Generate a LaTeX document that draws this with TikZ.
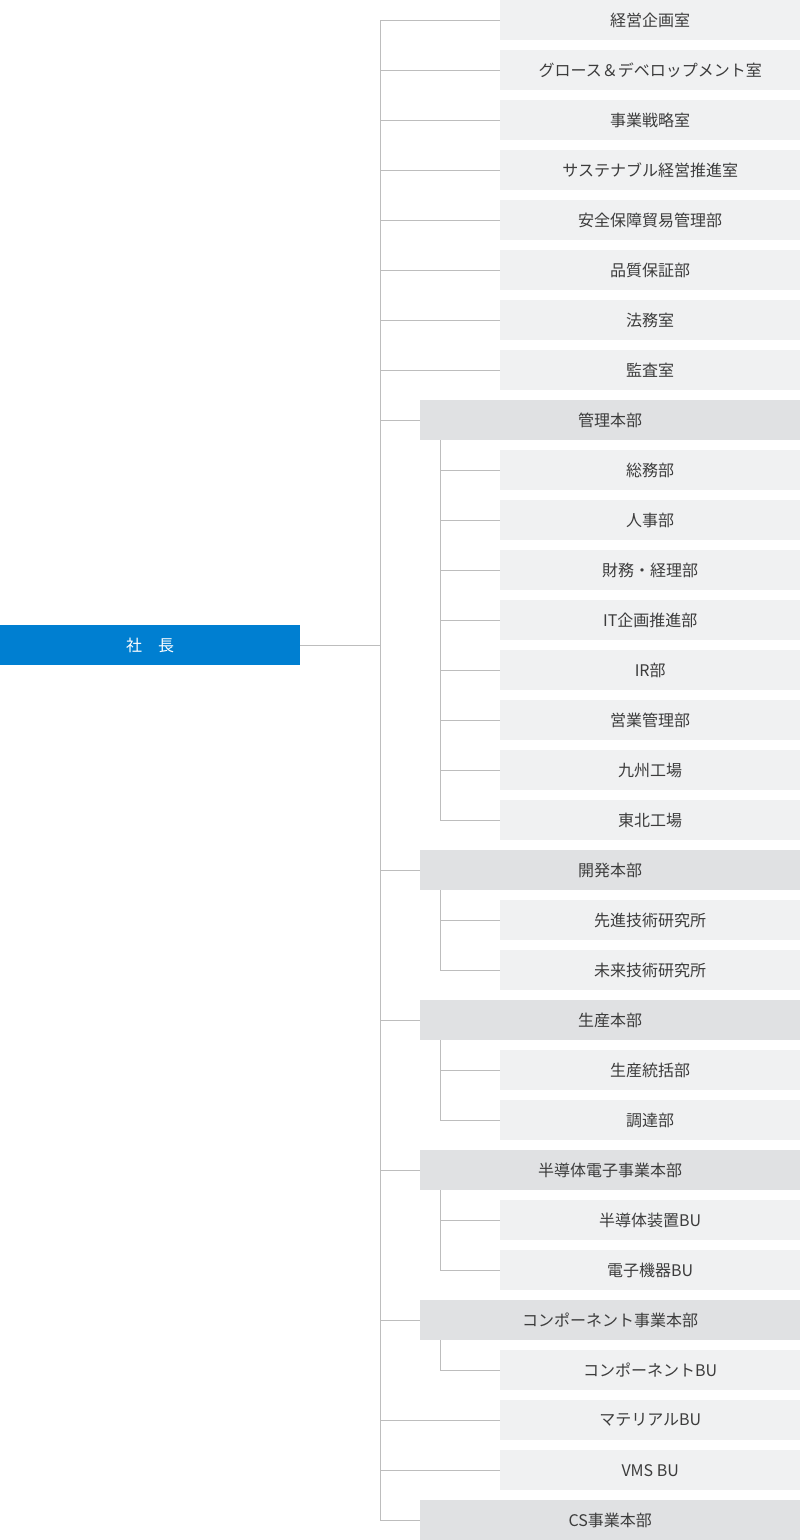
\documentclass[tikz,border=0pt]{standalone}
\usepackage{fontspec}
\setmainfont{Noto Sans CJK JP}
\definecolor{bossblue}{HTML}{007FD1}
\definecolor{leafgray}{HTML}{F0F1F2}
\definecolor{hqgray}{HTML}{E0E1E3}
\definecolor{linegray}{HTML}{BDBDBD}
\definecolor{textgray}{HTML}{3C3C3C}
\tikzset{
  leaf/.style={fill=leafgray, minimum width=300pt, minimum height=40pt, inner sep=0pt,
    anchor=north west, text=textgray, font=\fontsize{16}{16}\selectfont},
  hq/.style={leaf, fill=hqgray, minimum width=380pt},
  boss/.style={leaf, fill=bossblue, text=white},
  conn/.style={draw=linegray, line width=1pt}
}
\begin{document}
\begin{tikzpicture}[x=1pt,y=-1pt]
  \useasboundingbox (0,0) rectangle (800,1540);
  \coordinate (trunk) at (380,0);
  \coordinate (sub) at (440,0);
  % president
  \node[boss] (president) at (0,625) {社　長};
  % staff offices
  \node[leaf] (planning) at (500,0) {経営企画室};
  \node[leaf] (growth) at (500,50) {グロース＆デベロップメント室};
  \node[leaf] (strategy) at (500,100) {事業戦略室};
  \node[leaf] (sustain) at (500,150) {サステナブル経営推進室};
  \node[leaf] (security) at (500,200) {安全保障貿易管理部};
  \node[leaf] (quality) at (500,250) {品質保証部};
  \node[leaf] (legal) at (500,300) {法務室};
  \node[leaf] (audit) at (500,350) {監査室};
  % administration
  \node[hq] (admin) at (420,400) {管理本部};
  \node[leaf] (general) at (500,450) {総務部};
  \node[leaf] (hr) at (500,500) {人事部};
  \node[leaf] (finance) at (500,550) {財務・経理部};
  \node[leaf] (it) at (500,600) {IT企画推進部};
  \node[leaf] (ir) at (500,650) {IR部};
  \node[leaf] (sales) at (500,700) {営業管理部};
  \node[leaf] (kyushu) at (500,750) {九州工場};
  \node[leaf] (tohoku) at (500,800) {東北工場};
  % development
  \node[hq] (devel) at (420,850) {開発本部};
  \node[leaf] (advanced) at (500,900) {先進技術研究所};
  \node[leaf] (future) at (500,950) {未来技術研究所};
  % production
  \node[hq] (prod) at (420,1000) {生産本部};
  \node[leaf] (prodctl) at (500,1050) {生産統括部};
  \node[leaf] (procure) at (500,1100) {調達部};
  % semiconductor and electronics
  \node[hq] (semi) at (420,1150) {半導体電子事業本部};
  \node[leaf] (semibu) at (500,1200) {半導体装置BU};
  \node[leaf] (elecbu) at (500,1250) {電子機器BU};
  % components
  \node[hq] (comp) at (420,1300) {コンポーネント事業本部};
  \node[leaf] (compbu) at (500,1350) {コンポーネントBU};
  \node[leaf] (material) at (500,1400) {マテリアルBU};
  \node[leaf] (vms) at (500,1450) {VMS BU};
  \node[hq] (cs) at (420,1500) {CS事業本部};
  % connectors
  \draw[conn] (president.east) -- (president.east -| trunk);
  \draw[conn] (planning.west -| trunk) -- (cs.west -| trunk);
  \foreach \n in {planning,growth,strategy,sustain,security,quality,legal,audit,
      admin,devel,prod,semi,comp,material,vms,cs}
    \draw[conn] (\n.west -| trunk) -- (\n.west);
  \draw[conn] (admin.south -| sub) -- (tohoku.west -| sub);
  \draw[conn] (devel.south -| sub) -- (future.west -| sub);
  \draw[conn] (prod.south -| sub) -- (procure.west -| sub);
  \draw[conn] (semi.south -| sub) -- (elecbu.west -| sub);
  \draw[conn] (comp.south -| sub) -- (compbu.west -| sub);
  \foreach \n in {general,hr,finance,it,ir,sales,kyushu,tohoku,advanced,future,
      prodctl,procure,semibu,elecbu,compbu}
    \draw[conn] (\n.west -| sub) -- (\n.west);
\end{tikzpicture}
\end{document}
